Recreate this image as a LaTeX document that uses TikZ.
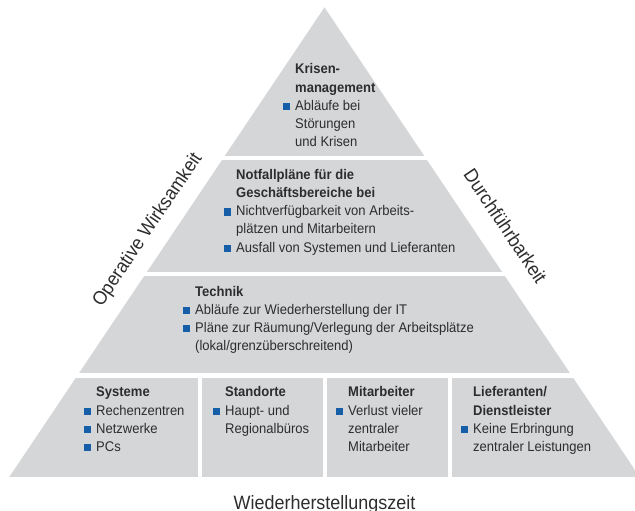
\documentclass[tikz,border=0pt]{standalone}
\usepackage{fontspec}
\setmainfont[FakeStretch=0.93]{Liberation Sans}

\definecolor{layergray}{RGB}{213,214,216}
\definecolor{textgray}{RGB}{45,45,45}
\definecolor{bulletblue}{RGB}{22,94,168}

% square blue bullet hanging left of the text margin
\newcommand{\sqbullet}{\llap{\textcolor{bulletblue}{\rule{7.3pt}{7.3pt}}\hspace{5pt}}}

\begin{document}
\begin{tikzpicture}[x=1pt,y=-1pt,
  every node/.style={inner sep=0pt,text=textgray},
  line/.style={anchor=base west,font=\fontsize{14}{18}\selectfont},
  head/.style={anchor=base west,font=\fontsize{14}{18}\selectfont\bfseries},
  sidelabel/.style={font=\fontsize{19.3}{22}\selectfont},
  layer/.style={fill=layergray}]

\useasboundingbox (0,0) rectangle (635,511);

% pyramid outline
\coordinate (apex) at (324.5,7.3);
\coordinate (baseL) at (9.3,477);
\coordinate (baseR) at (639.7,477);

\begin{scope}
  \clip (0,0) rectangle (635,511);
  \clip (apex) -- (baseL) -- (baseR) -- cycle;
  % horizontal bands, separated by white gaps
  \fill[layer] (0,0)   rectangle (635,156);
  \fill[layer] (0,160) rectangle (635,272);
  \fill[layer] (0,276) rectangle (635,373);
  % bottom band split into four boxes
  \fill[layer] (0,378)   rectangle (198,477);
  \fill[layer] (202,378) rectangle (323,477);
  \fill[layer] (327,378) rectangle (448,477);
  \fill[layer] (452,378) rectangle (635,477);
\end{scope}

% top: crisis management
\node[head] (k1) at (295,74)    {Krisen-};
\node[head] (k2) at (295,92.1)  {management};
\node[line] (k3) at (295,110.2) {\sqbullet Abläufe bei};
\node[line] (k4) at (295,128.3) {Störungen};
\node[line] (k5) at (295,146.4) {und Krisen};

% second band: business continuity plans
\node[head] (n1) at (236,179.3) {Notfallpläne für die};
\node[head] (n2) at (236,197.5) {Geschäftsbereiche bei};
\node[line] (n3) at (236,215.7) {\sqbullet Nichtverfügbarkeit von Arbeits-};
\node[line] (n4) at (236,233.9) {plätzen und Mitarbeitern};
\node[line] (n5) at (236,252.1) {\sqbullet Ausfall von Systemen und Lieferanten};

% third band: technology
\node[head] (t1) at (195,296)   {Technik};
\node[line] (t2) at (195,314.2) {\sqbullet Abläufe zur Wiederherstellung der IT};
\node[line] (t3) at (195,332.4) {\sqbullet Pläne zur Räumung/Verlegung der Arbeitsplätze};
\node[line] (t4) at (195,350.6) {(lokal/grenzüberschreitend)};

% bottom boxes
\node[head] (s1) at (96,396.8) {Systeme};
\node[line] (s2) at (96,415)   {\sqbullet Rechenzentren};
\node[line] (s3) at (96,433.2) {\sqbullet Netzwerke};
\node[line] (s4) at (96,451.4) {\sqbullet PCs};

\node[head] (o1) at (225,396.8) {Standorte};
\node[line] (o2) at (225,415)   {\sqbullet Haupt- und};
\node[line] (o3) at (225,433.2) {Regionalbüros};

\node[head] (m1) at (348,396.8) {Mitarbeiter};
\node[line] (m2) at (348,415)   {\sqbullet Verlust vieler};
\node[line] (m3) at (348,433.2) {zentraler};
\node[line] (m4) at (348,451.4) {Mitarbeiter};

\node[head] (d1) at (473,396.8) {Lieferanten/};
\node[head] (d2) at (473,415)   {Dienstleister};
\node[line] (d3) at (473,433.2) {\sqbullet Keine Erbringung};
\node[line] (d4) at (473,451.4) {zentraler Leistungen};

% axis labels along the sides and below
\node[sidelabel,rotate=56.1]  (left)  at (148,230)   {Operative Wirksamkeit};
\node[sidelabel,rotate=-56.1] (right) at (505.5,226) {Durchführbarkeit};
\node[sidelabel,anchor=base] (bottom) at (324.5,509.3) {Wiederherstellungszeit};

\end{tikzpicture}
\end{document}
